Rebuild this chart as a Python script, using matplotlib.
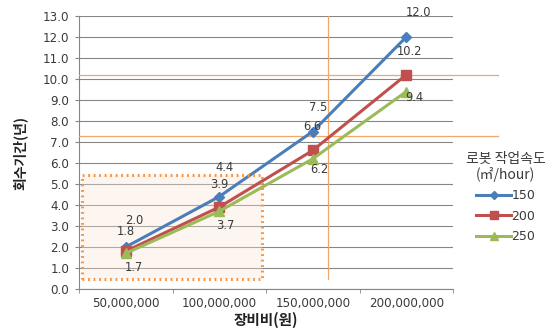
import matplotlib
matplotlib.use("Agg")
import matplotlib.pyplot as plt
from matplotlib.patches import Rectangle

plt.rcParams['font.family'] = ['Noto Sans CJK KR', 'DejaVu Sans']

categories = ["50,000,000", "100,000,000", "150,000,000", "200,000,000"]
speed_labels = ["150", "200", "250"]
payback_150 = [2.0, 4.4, 7.5, 12.0]
payback_200 = [1.8, 3.9, 6.6, 10.2]
payback_250 = [1.7, 3.7, 6.2, 9.4]
y_ticks = [0, 1, 2, 3, 4, 5, 6, 7, 8, 9, 10, 11, 12, 13]

series = [payback_150, payback_200, payback_250]
colors = ["#4A7EBB", "#C0504D", "#9BBB59"]
markers = ["D", "s", "^"]
msizes = [5, 7, 7]
# label offsets in points (dx, dy) for each series / category
label_offsets = [
    [(6, 19), (4, 21), (4, 17), (9, 18)],
    [(0, 14), (0, 16), (0, 17), (2, 17)],
    [(6, -10), (4, -10), (5, -8), (6, -4)],
]
num_font = ['DejaVu Sans']
text_c = "#3A3A3A"

fig = plt.figure(figsize=(5.54, 3.32), dpi=100)
ax = fig.add_axes([0.1426, 0.1295, 0.6751, 0.8223])

x = list(range(len(categories)))
for vals, c, m, ms, name, offs in zip(series, colors, markers, msizes, speed_labels, label_offsets):
    ax.plot(x, vals, color=c, lw=2.2, marker=m, ms=ms, mec=c, mfc=c, label=name, zorder=4)
    for xi, v, (dx, dy) in zip(x, vals, offs):
        ax.annotate(f"{v:.1f}", (xi, v), xytext=(dx, dy), textcoords="offset points",
                    ha="center", va="center", fontsize=8.3, family=num_font,
                    color=text_c, zorder=6)

ax.set_xlim(-0.5, 3.5)
ax.set_ylim(0, 13)
ax.set_yticks(y_ticks)
ax.set_yticklabels([f"{t:.1f}" for t in y_ticks], fontsize=8.6, family=num_font, color=text_c)
ax.set_xticks(x)
ax.set_xticklabels(categories, fontsize=8.6, family=num_font, color=text_c)
ax.set_xticks([-0.5, 0.5, 1.5, 2.5, 3.5], minor=True)
ax.tick_params(axis="x", which="major", length=0, pad=6)
ax.tick_params(axis="x", which="minor", length=3, color="#868686")
ax.tick_params(axis="y", length=3, color="#868686", pad=4)
ax.grid(axis="y", color="#868686", lw=0.8)
ax.set_axisbelow(True)
for s in ["top", "right"]:
    ax.spines[s].set_visible(False)
for s in ["left", "bottom"]:
    ax.spines[s].set_color("#868686")

ax.set_xlabel("장비비(원)", fontsize=10.5, fontweight="bold", labelpad=1, color="#222222")
ax.set_ylabel("회수기간(년)", fontsize=10, fontweight="bold", labelpad=11, color="#222222")

# highlighted low-cost region
ax.add_patch(Rectangle((-0.47, 0.48), 1.93, 4.97, facecolor="#FBE5D6", alpha=0.35,
                       edgecolor="none", zorder=1))
ax.add_patch(Rectangle((-0.47, 0.48), 1.93, 4.97, facecolor="none", edgecolor="#F79646",
                       lw=2.2, ls=(0, (0.6, 1.2)), zorder=5))

# reference lines
ref_c = "#F2A66A"
ax.plot([-0.5, 3.98], [10.2, 10.2], color=ref_c, lw=0.9, clip_on=False, zorder=3)
ax.plot([-0.5, 3.98], [7.3, 7.3], color=ref_c, lw=0.9, clip_on=False, zorder=3)
ax.plot([2.16, 2.16], [0.5, 13.0], color=ref_c, lw=0.9, clip_on=False, zorder=3)

leg = ax.legend(title="로봇 작업속도\n(㎡/hour)", loc="upper center",
                bbox_to_anchor=(0.913, 0.565), bbox_transform=fig.transFigure,
                frameon=False, fontsize=9, title_fontsize=10, handlelength=2.8,
                handletextpad=0.0, labelspacing=0.6, borderpad=0.1, markerscale=0.85)
for t in leg.get_texts():
    t.set_color(text_c)
    t.set_family(num_font)
leg.get_title().set_color(text_c)
leg.get_title().set_multialignment("center")
leg.get_title().set_linespacing(1.05)

fig.savefig("out.png", dpi=100)
